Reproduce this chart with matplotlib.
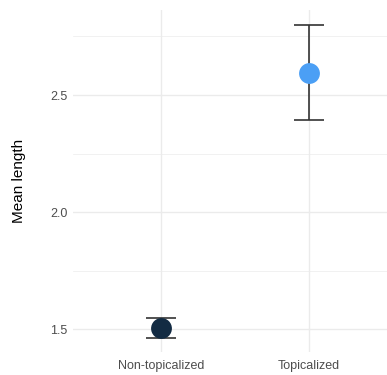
import matplotlib
matplotlib.use("Agg")
import matplotlib.pyplot as plt

# data
categories = ["Non-topicalized", "Topicalized"]
means = [1.507, 2.596]
lower = [1.463, 2.393]
upper = [1.551, 2.800]
point_colors = ["#132B43", "#4B9FF5"]

plt.rcParams["font.family"] = ["Liberation Sans", "DejaVu Sans"]

fig = plt.figure(figsize=(3.87, 3.75), dpi=100)
ax = fig.add_axes([73 / 387, 23 / 375, 1 - 73 / 387, 342 / 375])

xs = list(range(1, len(categories) + 1))

# grid, ggplot theme_minimal style
for y in [1.75, 2.25, 2.75]:
    ax.axhline(y, color="#EBEBEB", linewidth=0.5, zorder=0)
for y in [1.5, 2.0, 2.5]:
    ax.axhline(y, color="#EBEBEB", linewidth=1.0, zorder=0)
for x in xs:
    ax.axvline(x, color="#EBEBEB", linewidth=1.0, zorder=0)

for x, m, lo, hi, c in zip(xs, means, lower, upper, point_colors):
    ax.errorbar(x, m, yerr=[[m - lo], [hi - m]], fmt="none", ecolor="#333333",
                elinewidth=1.2, capsize=11, capthick=1.2, zorder=2)
    ax.plot(x, m, "o", color=c, markersize=15, markeredgewidth=0, zorder=3)

ax.set_xlim(0.405, 2.527)
ax.set_ylim(1.404, 2.863)
ax.set_xticks(xs)
ax.set_xticklabels(categories)
ax.set_yticks([1.5, 2.0, 2.5])
ax.set_yticklabels(["1.5", "2.0", "2.5"])
ax.tick_params(axis="both", length=0, labelsize=9, labelcolor="#4D4D4D", pad=4)
ax.tick_params(axis="x", pad=6)

for s in ax.spines.values():
    s.set_visible(False)

ax.set_ylabel("Mean length", fontsize=11, color="black", labelpad=17)

fig.savefig("out.png", dpi=100)
